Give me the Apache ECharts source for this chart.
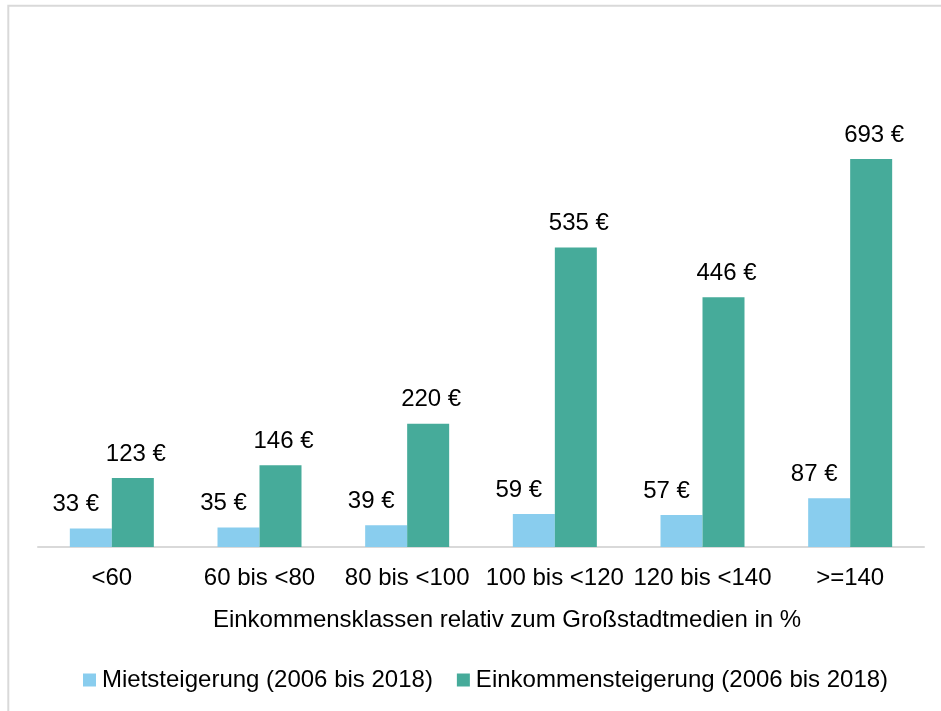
<!DOCTYPE html>
<html>
<head>
<meta charset="utf-8">
<script src="https://cdn.jsdelivr.net/npm/echarts@6/dist/echarts.min.js"></script>
<style>html,body{margin:0;padding:0;background:#fff}#c{width:941px;height:711px}</style>
</head>
<body>
<div id="c"></div>
<script>
const categories = ['<60', '60 bis <80', '80 bis <100', '100 bis <120', '120 bis <140', '>=140'];
const mietsteigerung = [33, 35, 39, 59, 57, 87];
const einkommenssteigerung = [123, 146, 220, 535, 446, 693];
const seriesNames = ['Mietsteigerung (2006 bis 2018)', 'Einkommensteigerung (2006 bis 2018)'];
const axisTitle = 'Einkommensklassen relativ zum Großstadtmedien in %';

const FONT = "'Liberation Sans', Arial, sans-serif";
const FS = 24;
const chart = echarts.init(document.getElementById('c'), null, {renderer: 'canvas'});
const labelStyle = {
  show: true, position: 'top', distance: 12, fontSize: FS, lineHeight: 24,
  fontFamily: FONT, color: '#000', formatter: p => p.value + ' €'
};
chart.setOption({
  animation: false,
  backgroundColor: '#fff',
  graphic: [{
    type: 'rect', silent: true, z: -10,
    shape: {x: 8.3, y: 5.7, width: 1200, height: 1200},
    style: {fill: 'none', stroke: '#d9d9d9', lineWidth: 2}
  }],
  legend: {
    left: 78, top: 663, itemWidth: 13, itemHeight: 13, itemGap: 24,
    icon: 'rect',
    textStyle: {fontSize: FS, lineHeight: 24, fontFamily: FONT, color: '#000', padding: [0, 0, 0, 1]},
    data: seriesNames
  },
  grid: {left: 38, right: 17, top: 99, bottom: 164},
  xAxis: {
    type: 'category', data: categories,
    axisLine: {lineStyle: {color: '#d9d9d9', width: 2}},
    axisTick: {show: false},
    axisLabel: {fontSize: FS, lineHeight: 24, fontFamily: FONT, color: '#000', margin: 19, interval: 0},
    name: axisTitle, nameLocation: 'middle', nameGap: 61,
    nameTextStyle: {fontSize: FS, lineHeight: 24, fontFamily: FONT, color: '#000', padding: [0, 0, 0, 52]}
  },
  yAxis: {type: 'value', min: 0, max: 800, show: false, splitLine: {show: false}},
  series: [
    {
      name: seriesNames[0], type: 'bar', data: mietsteigerung, barWidth: 42, barGap: '0%',
      itemStyle: {color: '#89CDEE'},
      label: Object.assign({}, labelStyle, {offset: [-15, 0]})
    },
    {
      name: seriesNames[1], type: 'bar', data: einkommenssteigerung, barWidth: 42, barGap: '0%',
      itemStyle: {color: '#46AB9A'},
      label: Object.assign({}, labelStyle, {offset: [3, 0]})
    }
  ]
});
</script>
</body>
</html>
